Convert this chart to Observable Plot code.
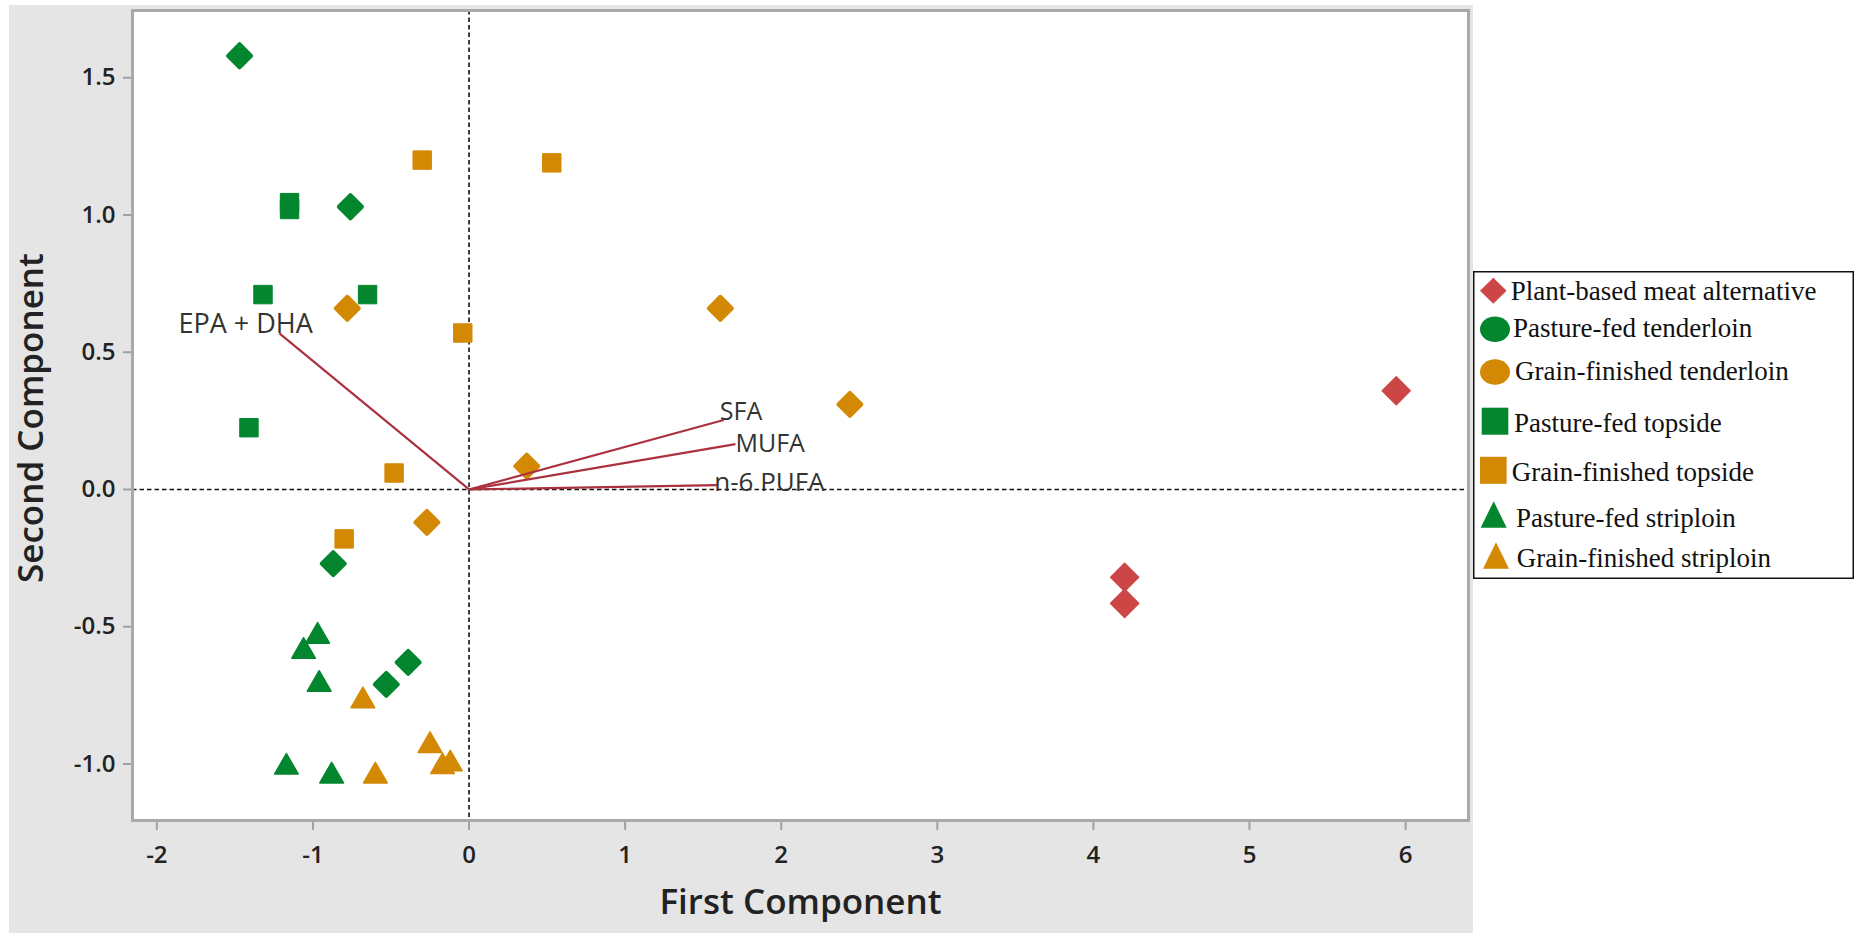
<!DOCTYPE html>
<html><head><meta charset="utf-8">
<script src="https://cdn.jsdelivr.net/npm/d3@7"></script>
<script src="https://cdn.jsdelivr.net/npm/@observablehq/plot@0.6"></script>
<style>
html,body{margin:0;padding:0;background:#fff;}
#wrap{position:relative;width:1854px;height:933px;overflow:hidden;}
#panel{position:absolute;left:9px;top:5px;width:1464px;height:928px;background:#e5e5e5;}
#chart{position:absolute;left:0;top:0;}
#legend{position:absolute;left:1473px;top:271px;}
#ytitle{position:absolute;left:29px;top:418px;transform:translate(-50%,-50%) rotate(-90deg);white-space:nowrap;
  font-family:'Open Sans',sans-serif;font-size:35px;font-weight:600;color:#222;line-height:normal;}
#chart svg g[aria-label$="axis tick"] path, #chart svg g[aria-label$="axis tick"] line, #chart svg .tick line {stroke:#a0a0a0; stroke-width:2px;}
#chart svg g[aria-label$="tick label"] text, #chart svg .tick text {font-size:24px; font-weight:600; fill:#222;}
</style></head><body>
<div id="wrap"><div id="panel"></div><div id="chart"></div><div id="ytitle">Second Component</div><div id="legend"></div></div>
<script>
// ---------------- data ----------------
const groupNames = [
  "Plant-based meat alternative",
  "Pasture-fed tenderloin",
  "Grain-finished tenderloin",
  "Pasture-fed topside",
  "Grain-finished topside",
  "Pasture-fed striploin",
  "Grain-finished striploin"
];
// [First Component, Second Component]
const plantBased = [[4.20, -0.32], [4.20, -0.415], [5.94, 0.36]];
const pastureTenderloin = [[-1.47, 1.58], [-0.76, 1.03], [-0.87, -0.27], [-0.39, -0.63], [-0.53, -0.71]];
const grainTenderloin = [[-0.78, 0.66], [1.61, 0.66], [2.44, 0.31], [0.37, 0.085], [-0.27, -0.12]];
const pastureTopside = [[-1.15, 1.045], [-1.15, 1.02], [-1.32, 0.71], [-0.65, 0.71], [-1.41, 0.225]];
const grainTopside = [[-0.30, 1.20], [0.53, 1.19], [-0.04, 0.57], [-0.48, 0.06], [-0.80, -0.18]];
const pastureStriploin = [[-0.97, -0.535], [-1.06, -0.59], [-0.96, -0.71], [-1.17, -1.012], [-0.88, -1.044]];
const grainStriploin = [[-0.68, -0.77], [-0.25, -0.933], [-0.17, -1.01], [-0.12, -1.0], [-0.60, -1.044]];

const vectorNames = ["EPA + DHA", "SFA", "MUFA", "n-6 PUFA"];
const vectorX = [-1.215, 1.632, 1.707, 1.590];
const vectorY = [0.569, 0.253, 0.165, 0.016];

const xTicks = [-2, -1, 0, 1, 2, 3, 4, 5, 6];
const yTicks = [-1.0, -0.5, 0.0, 0.5, 1.0, 1.5];

// ---------------- styles ----------------
const GREEN = "#03862e", ORANGE = "#d48904", RED = "#cc4646", VEC = "#ab3140";
const shapeStyle = {
  diamond: {symbol: "diamond2", r: 12.6, strokeWidth: 1.5},
  rounded: {symbol: "diamond2", r: 10.4, strokeWidth: 4},
  square: {symbol: "square", r: 10.4, strokeWidth: 1},
  triangle: {symbol: "triangle", r: 8.8, strokeWidth: 1.5}
};
const groupStyle = [
  {shape: "diamond", legend: "diamond", color: RED},
  {shape: "rounded", legend: "ellipse", color: GREEN},
  {shape: "rounded", legend: "ellipse", color: ORANGE},
  {shape: "square", legend: "square", color: GREEN},
  {shape: "square", legend: "square", color: ORANGE},
  {shape: "triangle", legend: "triangle", color: GREEN},
  {shape: "triangle", legend: "triangle", color: ORANGE}
];
const groupPoints = [plantBased, pastureTenderloin, grainTenderloin, pastureTopside, grainTopside, pastureStriploin, grainStriploin];

const vectors = vectorNames.map((name, i) => ({name, x: vectorX[i], y: vectorY[i]}));
const labelPlacement = {
  "EPA + DHA": {dx: -101, dy: 0, lineAnchor: "bottom", fontSize: 27},
  "SFA": {dx: -4, dy: 0, lineAnchor: "bottom", fontSize: 25},
  "MUFA": {dx: 0, dy: 0, lineAnchor: "middle", fontSize: 25},
  "n-6 PUFA": {dx: -3, dy: -2, lineAnchor: "middle", fontSize: 26}
};

const dotMarks = groupPoints.map((pts, i) => {
  const st = groupStyle[i], sh = shapeStyle[st.shape];
  return Plot.dot(pts, {
    x: d => d[0], y: d => d[1],
    symbol: sh.symbol, r: sh.r,
    fill: st.color, stroke: st.color, strokeWidth: sh.strokeWidth,
    strokeLinejoin: "round"
  });
});

const labelMarks = vectors.map(v => Plot.text([v], {
  x: "x", y: "y", text: "name", textAnchor: "start",
  fill: "#333", ...labelPlacement[v.name]
}));

const dash = {stroke: "#111", strokeWidth: 1.6, strokeDasharray: "4.5,3"};

const chart = Plot.plot({
  width: 1480, height: 933,
  marginLeft: 132, marginTop: 10, marginRight: 12, marginBottom: 113,
  x: {domain: [-2.156, 6.403], axis: "bottom", ticks: xTicks, tickSize: 10, tickPadding: 15, tickFormat: d => String(d), label: null},
  y: {domain: [-1.206, 1.745], axis: "left", ticks: yTicks, tickSize: 9, tickPadding: 8, tickFormat: d => d.toFixed(1), label: null},
  style: {background: "transparent", fontFamily: "'Open Sans', sans-serif"},
  marks: [
    Plot.frame({fill: "white"}),
    Plot.ruleX([0], dash),
    Plot.ruleY([0], dash),
    ...dotMarks,
    Plot.link(vectors, {x1: () => 0, y1: () => 0, x2: "x", y2: "y", stroke: VEC, strokeWidth: 2.2}),
    ...labelMarks,
    Plot.frame({stroke: "#a9a9a9", strokeWidth: 3}),
    Plot.text(["First Component"], {text: d => d, frameAnchor: "bottom", dy: 93, fontSize: 35, fontWeight: 600, fill: "#222"})
  ]
});
document.getElementById("chart").appendChild(chart);

// ---------------- legend ----------------
const legendLayout = [ // marker centre / text origin within the legend box
  {cx: 20.3, cy: 19.7, tx: 37.7, ty: 29},
  {cx: 22, cy: 58.3, tx: 40, ty: 66.3},
  {cx: 22, cy: 101, tx: 42, ty: 109},
  {cx: 22, cy: 150.2, tx: 41, ty: 160.7},
  {cx: 20.3, cy: 199.3, tx: 38.7, ty: 209.7},
  {cx: 20.7, cy: 243.5, tx: 43, ty: 255.7},
  {cx: 23, cy: 284.5, tx: 43.7, ty: 295.7}
];
function legendShape(kind, cx, cy, color) {
  if (kind === "diamond") return `<path d="M${cx},${cy-13}L${cx+13.3},${cy}L${cx},${cy+13}L${cx-13.3},${cy}Z" fill="${color}"/>`;
  if (kind === "ellipse") return `<ellipse cx="${cx}" cy="${cy}" rx="15" ry="12.8" fill="${color}"/>`;
  if (kind === "square") return `<rect x="${cx-13.3}" y="${cy-13.5}" width="26.6" height="27" fill="${color}"/>`;
  return `<path d="M${cx},${cy-13.3}L${cx+13},${cy+13.3}L${cx-13},${cy+13.3}Z" fill="${color}"/>`;
}
let lg = `<svg width="381" height="308" xmlns="http://www.w3.org/2000/svg">`;
lg += `<rect x="0.75" y="0.75" width="379.5" height="306.5" fill="white" stroke="#111" stroke-width="1.5"/>`;
groupNames.forEach((name, i) => {
  const L = legendLayout[i], st = groupStyle[i];
  lg += legendShape(st.legend, L.cx, L.cy, st.color);
  lg += `<text x="${L.tx}" y="${L.ty}" font-family="'Liberation Serif', 'Times New Roman', serif" font-size="27" fill="#111">${name}</text>`;
});
lg += `</svg>`;
document.getElementById("legend").innerHTML = lg;
</script>
</body></html>
